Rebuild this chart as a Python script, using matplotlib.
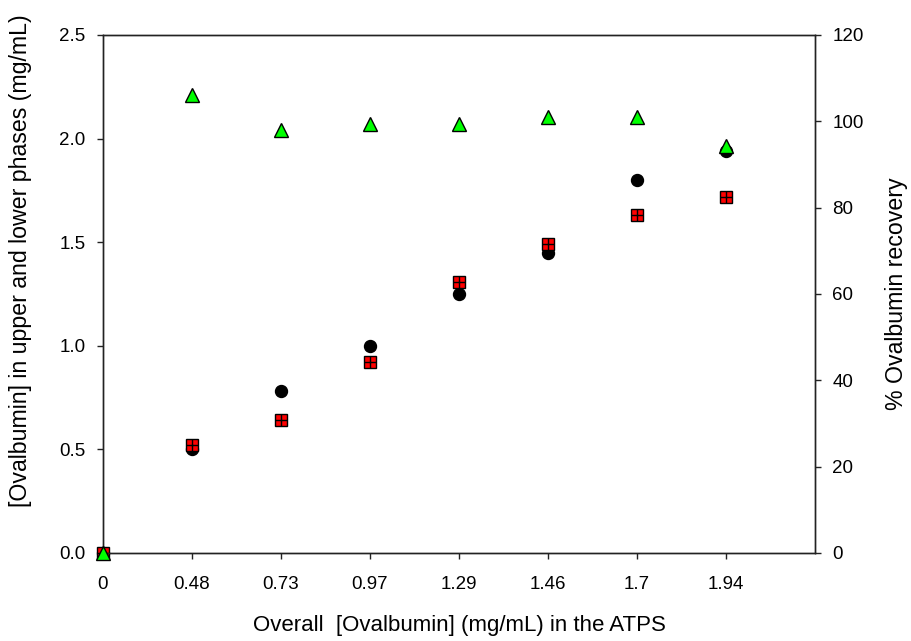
import matplotlib.pyplot as plt

plt.rcParams['font.family'] = ['Liberation Sans', 'DejaVu Sans']

# overall ovalbumin concentration (categorical x axis)
overall = ['0', '0.48', '0.73', '0.97', '1.29', '1.46', '1.7', '1.94']
# upper / lower phase concentration (mg/mL)
upper = [0.0, 0.50, 0.78, 1.00, 1.25, 1.45, 1.80, 1.94]
lower = [0.0, 0.52, 0.64, 0.92, 1.31, 1.49, 1.63, 1.72]
# % recovery (right axis)
recovery = [0.0, 106.2, 98.1, 99.4, 99.4, 101.0, 101.1, 94.4]

x = list(range(len(overall)))

fig = plt.figure(figsize=(9.11, 6.41), dpi=100)
ax = fig.add_axes([0.113, 0.1373, 0.7816, 0.8081])
ax2 = ax.twinx()

ax.plot(x, upper, 'o', ms=8.6, color='black', mec='black', clip_on=False, zorder=3)
ax.plot(x, lower, 's', ms=8.4, color='#ff0000', mec='black', mew=1.0, clip_on=False, zorder=4)
ax.plot(x, lower, '+', ms=8.0, color='black', mew=1.0, clip_on=False, zorder=5)
ax2.plot(x, recovery, '^', ms=9.4, color='#00ff00', mec='black', mew=1.0, clip_on=False, zorder=5)

ax.set_xlim(0, 8)
ax.set_ylim(0, 2.5)
ax2.set_ylim(0, 120)
ax.set_xticks(x)
ax.set_xticklabels(overall)
ax.set_yticks([0, 0.5, 1.0, 1.5, 2.0, 2.5])
ax.set_yticklabels(['0.0', '0.5', '1.0', '1.5', '2.0', '2.5'])
ax2.set_yticks([0, 20, 40, 60, 80, 100, 120])

for a in (ax, ax2):
    a.tick_params(direction='out', length=4.5, width=1.0, labelsize=13.5, pad=8, color='#222222')
    for s in a.spines.values():
        s.set_linewidth(1.0)
        s.set_color('#222222')
ax.tick_params(axis='x', pad=12)

ax.set_xlabel('Overall  [Ovalbumin] (mg/mL) in the ATPS', fontsize=16, labelpad=16)
ax.set_ylabel('[Ovalbumin] in upper and lower phases (mg/mL)', fontsize=16.7)
ax.yaxis.set_label_coords(-0.10, 0.5637)
ax2.set_ylabel('% Ovalbumin recovery', fontsize=16.7, labelpad=15.5)

fig.savefig('out.png', dpi=100)
